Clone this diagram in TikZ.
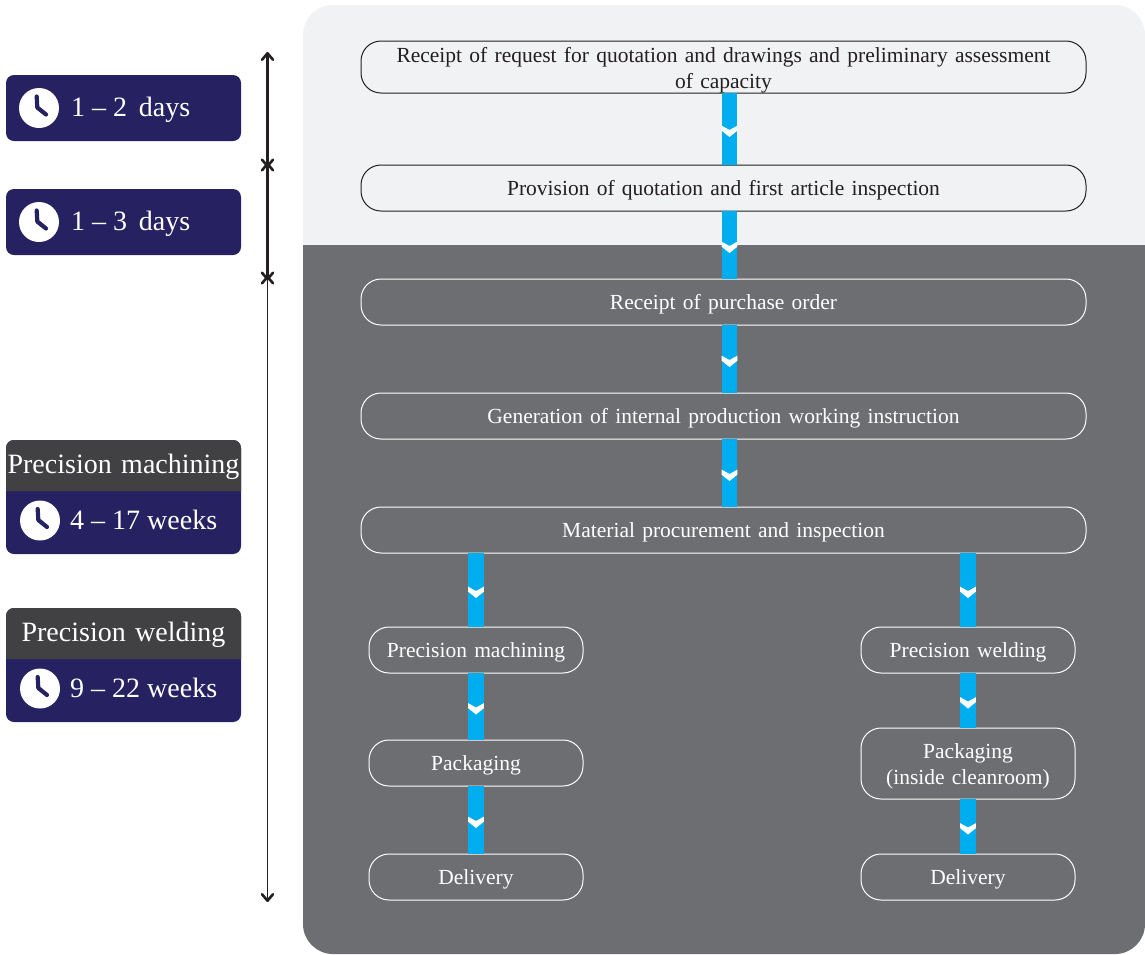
\documentclass[tikz,border=0pt]{standalone}
\usepackage{fontspec}
\setmainfont{Liberation Serif}
\newfontfamily\stepfont[WordSpace=1.35]{Liberation Serif}
\usetikzlibrary{arrows.meta,decorations.markings}
\definecolor{panellight}{HTML}{F1F2F4}
\definecolor{paneldark}{HTML}{6D6E71}
\definecolor{navy}{HTML}{262262}
\definecolor{headgray}{HTML}{414042}
\definecolor{flowblue}{HTML}{00AEEF}
\definecolor{inkblack}{HTML}{231F20}
\newcommand{\firstline}{\rule{0pt}{21pt}}
\tikzset{
	stepbox/.style={draw, line width=1pt, rounded corners=20pt, minimum width=725pt, minimum height=46pt, inner ysep=0pt, align=center, outer sep=0pt, font=\stepfont\fontsize{21.5}{26}\selectfont, execute at begin node={\rule[-5pt]{0pt}{24pt}}},
	lightbox/.style={stepbox, draw=inkblack, text=inkblack, fill=panellight},
	darkbox/.style={stepbox, draw=white, text=white, fill=paneldark},
	laneb/.style={darkbox, minimum width=214pt},
	flow/.style={draw=flowblue, line width=15.6pt, postaction={decorate},
		decoration={markings, mark=at position 0.5 with {\fill[white] (-3.3pt,-7.8pt) -- (1pt,0pt) -- (-3.3pt,7.8pt) -- (1.7pt,7.8pt) -- (8pt,0pt) -- (1.7pt,-7.8pt) -- cycle;}}},
	badge/.style={fill=navy, rounded corners=8pt, minimum width=235pt, outer sep=0pt},
	bagtext/.style={text=white, font=\fontsize{28}{30}\selectfont, anchor=west, inner sep=0pt},
	bagtip/.tip={Straight Barb[length=6.5pt,width=11pt,line width=2.6pt,round]},
	span/.style={draw=inkblack, line width=2.6pt, {bagtip}-{bagtip}},
	clock/.pic={
		\fill[white] (0,0) circle (20pt);
		\draw[navy, line width=4.2pt, line cap=round, line join=round] (-2.3,-11.5) -- (-1.7,-0.5) -- (7,6.5);
	}
}
\begin{document}
\begin{tikzpicture}[x=1pt,y=-1pt]
	\useasboundingbox (0,0) rectangle (1145,954);
	% panels
	\fill[panellight] (303,245) [rounded corners=30pt] -- (303,5) -- (1145,5) [sharp corners] -- (1145,245) -- cycle;
	\fill[paneldark] (303,245) -- (1145,245) [rounded corners=30pt] -- (1145,954) -- (303,954) [sharp corners] -- cycle;
	% main steps
	\node[lightbox, minimum height=52pt] (req) at (723.5,67) {\firstline Receipt of request for quotation and drawings and preliminary assessment\\of capacity};
	\node[lightbox] (quote) at (723.5,188) {Provision of quotation and first article inspection};
	\node[darkbox] (order) at (723.5,302) {Receipt of purchase order};
	\node[darkbox] (instr) at (723.5,416) {Generation of internal production working instruction};
	\node[darkbox] (mat) at (723.5,530) {Material procurement and inspection};
	% the two lanes
	\node[laneb] (mach) at (476,650) {Precision machining};
	\node[laneb] (packa) at (476,763) {Packaging};
	\node[laneb] (dela) at (476,877) {Delivery};
	\node[laneb] (weld) at (968,650) {Precision welding};
	\node[laneb, minimum height=71pt] (packb) at (968,763.5) {\firstline Packaging\\(inside cleanroom)};
	\node[laneb] (delb) at (968,877) {Delivery};
	\foreach \a/\b in {req/quote,quote/order,order/instr,instr/mat}
		\path ([xshift=6pt]\a.south) edge[flow] ([xshift=6pt]\b.north);
	\path
	(mat.south -| mach.north) edge[flow] (mach.north)
	(mach) edge[flow] (packa)
	(packa) edge[flow] (dela)
	(mat.south -| weld.north) edge[flow] (weld.north)
	(weld) edge[flow] (packb)
	(packb) edge[flow] (delb);
	% time spans
	\coordinate (s0) at (267.5,52);
	\coordinate (s1) at (267.5,167.5);
	\coordinate (s2) at (267.5,162.5);
	\coordinate (s3) at (267.5,280.5);
	\coordinate (s4) at (267.5,275.5);
	\coordinate (s5) at (267.5,902);
	\draw[span] (s0) -- (s1);
	\draw[span] (s2) -- (s3);
	\draw[span, line width=1.7pt] (s4) -- (s5);
	% badges
	\node[badge, minimum height=66pt] (daysa) at (123.5,108) {};
	\node[badge, minimum height=66pt] (daysb) at (123.5,222) {};
	\node[badge, minimum height=114pt] (weeksa) at (123.5,497) {};
	\node[badge, minimum height=114pt] (weeksb) at (123.5,665) {};
	\foreach \n/\t in {weeksa/Precision machining,weeksb/Precision welding}{
		\fill[headgray] ([yshift=-51pt]\n.north west) [rounded corners=8pt] -- (\n.north west) -- (\n.north east) [sharp corners] -- ([yshift=-51pt]\n.north east) -- cycle;
		\node[bagtext, anchor=center, font=\stepfont\fontsize{28}{30}\selectfont] (\n-head) at ([yshift=-27pt]\n.north) {\t};
	}
	\pic at (39,108) {clock};
	\pic at (39,222) {clock};
	\pic at (40,520.5) {clock};
	\pic at (40,688.5) {clock};
	\node[bagtext] (daysa-t) at (71,110) {1 -- 2\, days};
	\node[bagtext] (daysb-t) at (71,224) {1 -- 3\, days};
	\node[bagtext] (weeksa-t) at (70,520) {4 -- 17 weeks};
	\node[bagtext] (weeksb-t) at (70,688) {9 -- 22 weeks};
\end{tikzpicture}
\end{document}
